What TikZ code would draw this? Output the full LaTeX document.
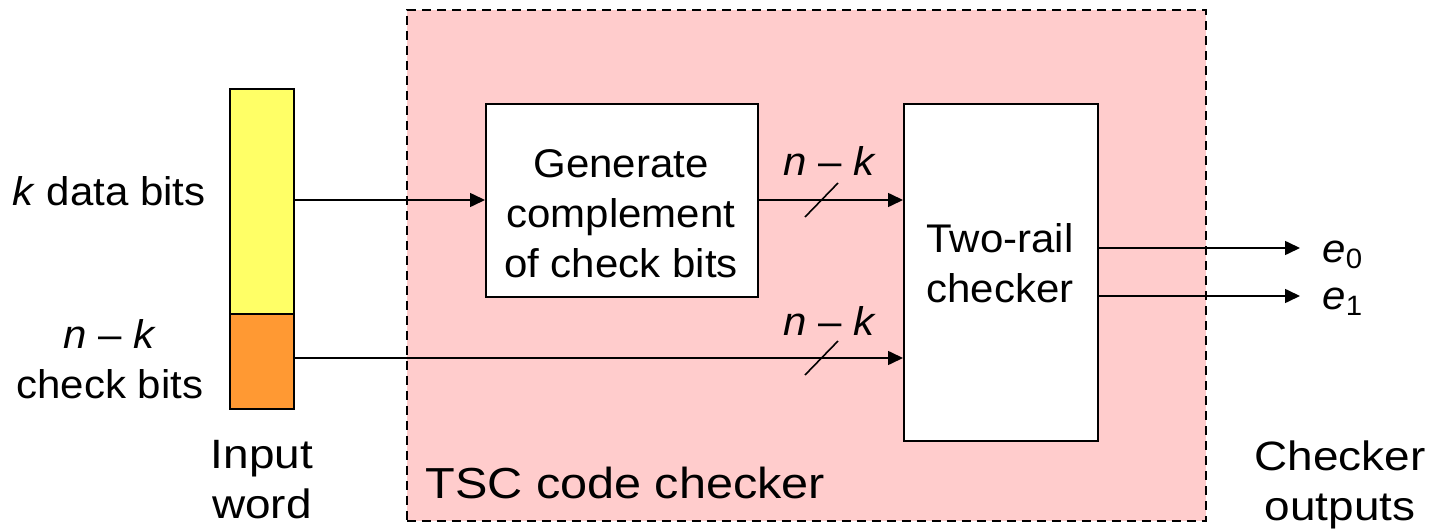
\documentclass[tikz,border=0pt]{standalone}
\usepackage{fontspec}
\setmainfont{Liberation Sans}[FakeStretch=1.05]
\newfontfamily\widefont{Liberation Sans}[FakeStretch=1.12]
\usetikzlibrary{arrows.meta}
\definecolor{tscpink}{RGB}{255,204,204}
\definecolor{datayellow}{RGB}{255,255,102}
\definecolor{checkorange}{RGB}{255,153,51}
\tikzset{
  lbl/.style={inner sep=0pt, font=\fontsize{20pt}{25pt}\selectfont},
  biglbl/.style={inner sep=0pt, font=\widefont\fontsize{20.5pt}{25pt}\selectfont},
  blockbox/.style={draw, line width=1pt, fill=white, inner sep=0pt},
  sig/.style={line width=0.8pt, -{Triangle[length=7.5pt, width=7pt]}},
  busmark/.style={line width=0.8pt}
}
\begin{document}
\begin{tikzpicture}[x=0.5pt, y=-0.5pt]
  \useasboundingbox (0,0) rectangle (1437,530);

  % TSC checker enclosure
  \node[draw, dash pattern=on 4.5pt off 3pt, line width=0.8pt, fill=tscpink,
        minimum width=399.5pt, minimum height=255.5pt, inner sep=0pt, anchor=north west]
        (tsc) at (406,9) {};

  % input word: data part and check part
  \node[draw, line width=1pt, fill=datayellow, minimum width=32pt, minimum height=112.5pt,
        inner sep=0pt, anchor=north west] (data) at (229,88) {};
  \node[draw, line width=1pt, fill=checkorange, minimum width=32pt, minimum height=47.5pt,
        inner sep=0pt, anchor=north west] (chk) at (229,313) {};

  % processing blocks
  \node[blockbox, minimum width=136pt, minimum height=96.5pt, anchor=north west]
        (gen) at (485,103) {};
  \node[blockbox, minimum width=97pt, minimum height=168.5pt, anchor=north west]
        (trc) at (903,103) {};

  % multi-line labels are placed by the baseline of their last line
  \node[lbl, align=center, anchor=base] (gentxt) at (621,277)
        {Generate\\complement\\of check bits};
  \node[lbl, align=center, anchor=base] (trctxt) at (1000,302)
        {Two-rail\\checker};

  % connection points
  \coordinate (dout) at (293,200);
  \coordinate (cout) at (293,358);
  \coordinate (genin) at (485,200);
  \coordinate (genout) at (757,200);
  \coordinate (trcin1) at (903,200);
  \coordinate (trcin2) at (903,358);
  \coordinate (trcout0) at (1097,248);
  \coordinate (trcout1) at (1097,296);
  \coordinate (e0end) at (1300,248);
  \coordinate (e1end) at (1300,296);

  % signal lines
  \draw[sig] (dout) -- (genin);
  \draw[sig] (genout) -- (trcin1);
  \draw[sig] (cout) -- (trcin2);
  \draw[sig] (trcout0) -- (e0end);
  \draw[sig] (trcout1) -- (e1end);

  % bus width marks
  \draw[busmark] (805,217) -- (838,183);
  \draw[busmark] (805,375) -- (838,341);
  \node[lbl, anchor=base] (w1) at (830,175) {\textit{n} – \textit{k}};
  \node[lbl, anchor=base] (w2) at (830,335) {\textit{n} – \textit{k}};

  % outputs
  \node[lbl, anchor=base west] (e0) at (1322,262) {\textit{e}\textsubscript{0}};
  \node[lbl, anchor=base west] (e1) at (1322,309) {\textit{e}\textsubscript{1}};

  % side labels
  \node[lbl, anchor=base east] (kdata) at (206,205) {\textit{k} data bits};
  \node[lbl, align=center, anchor=base] (nk) at (110,398) {\textit{n} – \textit{k}\\check bits};
  \node[biglbl, align=center, anchor=base] (inword) at (262,518) {Input\\word};
  \node[biglbl, anchor=base west, font=\widefont\fontsize{21.7pt}{25pt}\selectfont]
        (tsclbl) at (425,498) {TSC code checker};
  \node[biglbl, align=center, anchor=base] (outs) at (1340,520) {Checker\\outputs};
\end{tikzpicture}
\end{document}
